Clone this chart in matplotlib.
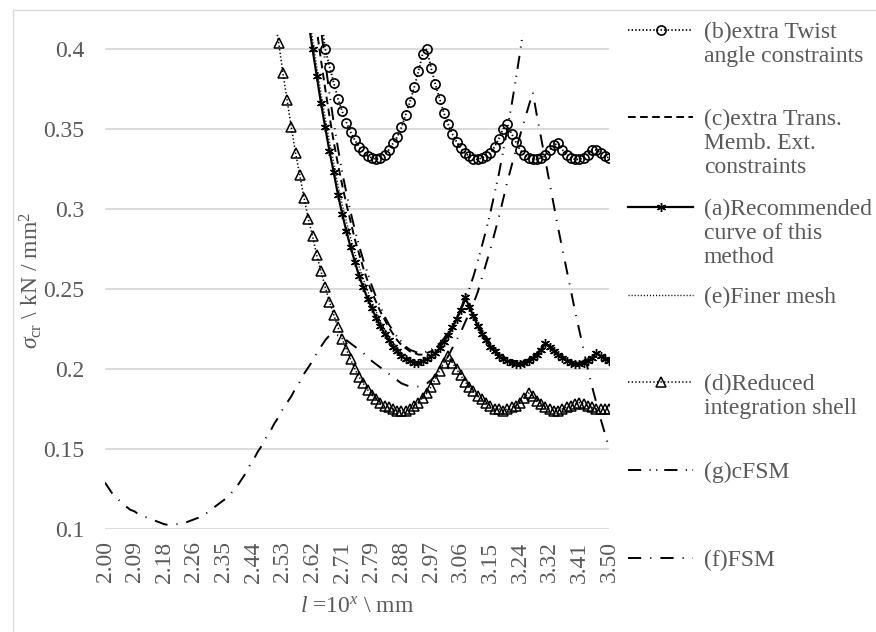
import numpy as np
import matplotlib
matplotlib.use("Agg")
import matplotlib.pyplot as plt
from matplotlib.lines import Line2D
from matplotlib.patches import Rectangle

plt.rcParams['font.family'] = ['Liberation Serif', 'DejaVu Serif']
plt.rcParams['mathtext.fontset'] = 'custom'
plt.rcParams['mathtext.rm'] = 'Liberation Serif'
plt.rcParams['mathtext.it'] = 'Liberation Serif:italic'
plt.rcParams['lines.scale_dashes'] = False

# x categories: log10(l), 120 equally spaced points from 2.00 to 3.50
x_cat = np.round(2.0 + np.arange(120) * 1.5 / 119, 4)
tick_idx = np.arange(0, 120, 7)
y_ticks = [0.1, 0.15, 0.2, 0.25, 0.3, 0.35, 0.4]

# (b) extra twist angle constraints, starts at category 51
twist_start = 51
twist = [0.420, 0.400, 0.389, 0.379, 0.369, 0.361, 0.354, 0.348, 0.343, 0.339,
         0.336, 0.333, 0.332, 0.331, 0.332, 0.334, 0.337, 0.341, 0.345, 0.351,
         0.359, 0.367, 0.376, 0.386, 0.397, 0.400, 0.388, 0.378, 0.369, 0.360,
         0.353, 0.347, 0.342, 0.338, 0.335, 0.333, 0.331, 0.331, 0.332, 0.333,
         0.335, 0.339, 0.344, 0.350, 0.353, 0.347, 0.342, 0.337, 0.334, 0.332,
         0.331, 0.331, 0.332, 0.334, 0.337, 0.340, 0.341, 0.337, 0.334, 0.332,
         0.331, 0.331, 0.332, 0.334, 0.337, 0.337, 0.335, 0.333, 0.332]

# (c) extra trans. memb. ext. constraints, starts at 49
trans_start = 49
trans = [0.430, 0.412, 0.393, 0.375, 0.358, 0.342, 0.328, 0.315, 0.303, 0.292,
         0.281, 0.272, 0.263, 0.255, 0.248, 0.242, 0.236, 0.231, 0.226, 0.222,
         0.218, 0.215, 0.213, 0.211, 0.210, 0.209, 0.209, 0.210, 0.211, 0.213,
         0.215, 0.218, 0.222, 0.226, 0.231, 0.237, 0.243, 0.241, 0.235, 0.229,
         0.224, 0.220, 0.216, 0.213, 0.210, 0.208, 0.206, 0.205, 0.205, 0.205,
         0.205, 0.206, 0.208, 0.210, 0.213, 0.216, 0.215, 0.212, 0.210, 0.208,
         0.206, 0.205, 0.204, 0.204, 0.205, 0.206, 0.208, 0.210, 0.209, 0.207,
         0.206]

# (a) recommended curve, starts at 48
rec_start = 48
rec = [0.418, 0.400, 0.383, 0.366, 0.351, 0.336, 0.323, 0.309, 0.297, 0.286,
       0.276, 0.267, 0.258, 0.251, 0.244, 0.238, 0.232, 0.227, 0.222, 0.218,
       0.214, 0.211, 0.208, 0.206, 0.205, 0.204, 0.204, 0.205, 0.206, 0.208,
       0.210, 0.213, 0.217, 0.221, 0.226, 0.231, 0.237, 0.245, 0.239, 0.233,
       0.227, 0.222, 0.218, 0.214, 0.211, 0.208, 0.206, 0.205, 0.204, 0.203,
       0.203, 0.204, 0.205, 0.207, 0.209, 0.212, 0.216, 0.214, 0.211, 0.209,
       0.207, 0.205, 0.204, 0.203, 0.203, 0.204, 0.205, 0.207, 0.210, 0.208,
       0.206, 0.205]

# (e) finer mesh, starts at 48
fine_start = 48
fine = [0.425, 0.406, 0.389, 0.372, 0.357, 0.342, 0.329, 0.315, 0.303, 0.292,
        0.282, 0.272, 0.264, 0.256, 0.249, 0.242, 0.236, 0.230, 0.225, 0.221,
        0.217, 0.213, 0.210, 0.208, 0.206, 0.205, 0.205, 0.205, 0.206, 0.208,
        0.210, 0.213, 0.217, 0.221, 0.226, 0.231, 0.238, 0.244, 0.240, 0.234,
        0.228, 0.223, 0.219, 0.215, 0.212, 0.209, 0.207, 0.205, 0.204, 0.204,
        0.204, 0.205, 0.206, 0.208, 0.210, 0.213, 0.216, 0.215, 0.212, 0.210,
        0.208, 0.206, 0.205, 0.204, 0.204, 0.205, 0.206, 0.208, 0.210, 0.209,
        0.207, 0.206]

# (d) reduced integration shell, starts at 40
red_start = 40
red = [0.420, 0.404, 0.385, 0.368, 0.351, 0.335, 0.321, 0.307, 0.294, 0.283,
       0.271, 0.261, 0.251, 0.242, 0.234, 0.226, 0.219, 0.212, 0.206, 0.200,
       0.195, 0.191, 0.187, 0.184, 0.181, 0.179, 0.177, 0.176, 0.175, 0.174,
       0.174, 0.174, 0.175, 0.177, 0.179, 0.182, 0.185, 0.189, 0.194, 0.199,
       0.204, 0.208, 0.204, 0.200, 0.196, 0.192, 0.189, 0.186, 0.183, 0.181,
       0.179, 0.177, 0.175, 0.175, 0.174, 0.175, 0.176, 0.177, 0.179, 0.182,
       0.185, 0.183, 0.180, 0.178, 0.176, 0.175, 0.174, 0.174, 0.175, 0.176,
       0.177, 0.178, 0.179, 0.178, 0.177, 0.176, 0.175, 0.175, 0.175, 0.175]

# (g) cFSM, starts at 50
cfsm_start = 50
cfsm = [0.440, 0.412, 0.392, 0.372, 0.354, 0.338, 0.323, 0.310, 0.298, 0.287,
        0.277, 0.268, 0.260, 0.252, 0.245, 0.239, 0.233, 0.228, 0.224, 0.220,
        0.217, 0.214, 0.212, 0.211, 0.210, 0.210, 0.211, 0.212, 0.214, 0.216,
        0.219, 0.223, 0.227, 0.232, 0.237, 0.243, 0.250, 0.258, 0.267, 0.277,
        0.287, 0.298, 0.310, 0.322, 0.336, 0.350, 0.365, 0.381, 0.398, 0.416]

# (f) FSM, all categories
fsm_start = 0
fsm = [0.129, 0.125, 0.121, 0.119, 0.116, 0.114, 0.112, 0.111, 0.109, 0.108,
       0.107, 0.106, 0.105, 0.104, 0.103, 0.1025, 0.1025, 0.103, 0.103, 0.104,
       0.105, 0.106, 0.107, 0.109, 0.110, 0.112, 0.114, 0.116, 0.118, 0.120,
       0.123, 0.126, 0.130, 0.134, 0.139, 0.143, 0.148, 0.152, 0.157, 0.161,
       0.166, 0.170, 0.175, 0.179, 0.183, 0.188, 0.192, 0.197, 0.201, 0.205,
       0.210, 0.214, 0.218, 0.221, 0.222, 0.221, 0.220, 0.218, 0.216, 0.214,
       0.212, 0.210, 0.2075, 0.205, 0.203, 0.201, 0.199, 0.197, 0.195, 0.193,
       0.191, 0.190, 0.189, 0.189, 0.189, 0.190, 0.191, 0.193, 0.196, 0.199,
       0.203, 0.208, 0.213, 0.218, 0.223, 0.229, 0.235, 0.241, 0.248, 0.257,
       0.266, 0.275, 0.285, 0.295, 0.306, 0.317, 0.327, 0.337, 0.346, 0.355,
       0.364, 0.373, 0.358, 0.344, 0.330, 0.316, 0.302, 0.288, 0.275, 0.262,
       0.249, 0.236, 0.224, 0.212, 0.200, 0.189, 0.179, 0.169, 0.160, 0.151]


def full(start, vals):
    out = np.full(len(x_cat), np.nan)
    out[start:start + len(vals)] = vals
    return out


gray = '#595959'
dot = (0, (1.0, 1.6))
series = [
    ('(b)extra Twist\nangle constraints', twist_start, twist,
     dict(ls=dot, lw=1.3, marker='o', ms=6.6, mfc='none', mew=1.2)),
    ('(c)extra Trans.\nMemb. Ext.\nconstraints', trans_start, trans,
     dict(ls=(0, (5.5, 3.2)), lw=1.4)),
    ('(a)Recommended\ncurve of this\nmethod', rec_start, rec,
     dict(ls='-', lw=1.6, marker=(6, 2, 0), ms=6.5, mew=1.0)),
    ('(e)Finer mesh', fine_start, fine,
     dict(ls=(0, (0.8, 1.4)), lw=1.0)),
    ('(d)Reduced\nintegration shell', red_start, red,
     dict(ls=dot, lw=1.1, marker='^', ms=6.5, mfc='none', mew=1.1)),
    ('(g)cFSM', cfsm_start, cfsm,
     dict(ls=(0, (9.5, 6.0, 0.8, 4.0, 0.8, 5.0)), lw=1.4)),
    ('(f)FSM', fsm_start, fsm,
     dict(ls=(0, (9.5, 6.5, 0.8, 6.5)), lw=1.4)),
]

fig = plt.figure(figsize=(8.76, 6.32), dpi=100)
ax = fig.add_axes([105 / 876, 1 - 529 / 632, 504 / 876, 496 / 632])

for label, start, vals, st in series:
    ax.plot(x_cat, full(start, vals), color='black', dash_capstyle='butt',
            label=label, **st)

ax.set_xlim(x_cat[0], x_cat[-1])
ax.set_ylim(0.1, 0.41)
ax.set_yticks(y_ticks)
ax.set_yticklabels([f'{v:g}' for v in y_ticks])
ax.set_xticks(x_cat[tick_idx])
ax.set_xticklabels([f'{v:.2f}' for v in x_cat[tick_idx]], rotation=90)
ax.tick_params(axis='both', length=0, labelsize=17, labelcolor=gray)
ax.tick_params(axis='y', pad=15)
ax.tick_params(axis='x', pad=9)
ax.yaxis.grid(True, color='#d9d9d9', lw=1.3)
ax.set_axisbelow(True)
for s in ax.spines.values():
    s.set_visible(False)

ax.set_ylabel(r'$\sigma_{\mathrm{cr}}$ \ kN / mm$^2$', fontsize=17, color=gray)
ax.yaxis.label.set_va('center')
ax.yaxis.set_label_coords(-0.147, 0.5)
ax.set_xlabel(r'$l$ =10$^{x}$ \ mm', fontsize=17, color=gray)
ax.xaxis.label.set_va('center')
ax.xaxis.set_label_coords(0.5, -0.157)

# legend drawn by hand so that each sample sits on the first text line
leg_y = [30, 117, 207, 295, 382, 470, 558]
for (label, start, vals, st), ly in zip(series, leg_y):
    yf = 1 - ly / 632
    lst = {k: v for k, v in st.items() if k not in ('marker', 'ms', 'mfc', 'mew')}
    fig.add_artist(Line2D([628 / 876, 693 / 876], [yf, yf], color='black',
                          dash_capstyle='butt', transform=fig.transFigure, **lst))
    if 'marker' in st:
        fig.add_artist(Line2D([661 / 876], [yf], color='black', ls='none',
                              marker=st['marker'], ms=st['ms'],
                              mfc=st.get('mfc', 'black'), mew=st['mew'],
                              transform=fig.transFigure))
    fig.text(704 / 876, 1 - (ly - 8.5) / 632, label, fontsize=17, color=gray,
             ha='left', va='top', linespacing=1.2)

fig.add_artist(Rectangle((13 / 876, -0.05), 1.2, 1.05 - 10 / 632, fill=False,
                         edgecolor='#d9d9d9', lw=1.0, transform=fig.transFigure))

fig.savefig('out.png', dpi=100)
